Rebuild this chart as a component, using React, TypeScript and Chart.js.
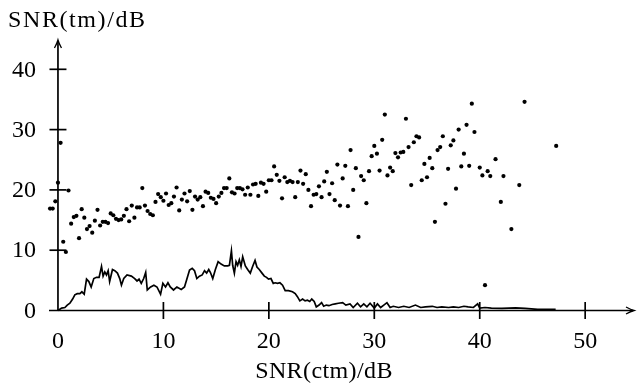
import React, { useEffect, useRef } from "react";
import { Chart, registerables } from "chart.js";

Chart.register(...registerables);

const scatterX = [
  -0.75, -0.5, -0.25, 0, 0.25, 0.5, 0.75, 1.0, 1.25, 1.5, 1.75, 2.0, 2.25, 2.5, 2.75, 3.0, 3.25, 3.5, 3.75, 4.0,
  4.25, 4.5, 4.75, 5.0, 5.25, 5.5, 5.75, 6.0, 6.25, 6.5, 6.75, 7.0, 7.25, 7.5, 7.75, 8.0, 8.25, 8.5, 8.75, 9.0,
  9.25, 9.5, 9.75, 10.0, 10.25, 10.5, 10.75, 11.0, 11.25, 11.5, 11.75, 12.0, 12.25, 12.5, 12.75, 13.0, 13.25, 13.5, 13.75, 14.0,
  14.25, 14.5, 14.75, 15.0, 15.25, 15.5, 15.75, 16.0, 16.25, 16.5, 16.75, 17.0, 17.25, 17.5, 17.75, 18.0, 18.25, 18.5, 18.75, 19.0,
  19.25, 19.5, 19.75, 20.0, 20.25, 20.5, 20.75, 21.0, 21.25, 21.5, 21.75, 22.0, 22.25, 22.5, 22.75, 23.0, 23.25, 23.5, 23.75, 24.0,
  24.25, 24.5, 24.75, 25.0, 25.25, 25.5, 25.75, 26.0, 26.25, 26.5, 26.75, 27.0, 27.25, 27.5, 27.75, 28.0, 28.25, 28.5, 28.75, 29.0,
  29.25, 29.5, 29.75, 30.0, 30.25, 30.5, 30.75, 31.0, 31.25, 31.5, 31.75, 32.0, 32.25, 32.5, 32.75, 33.0, 33.25, 33.5, 33.75, 34.0,
  34.25, 34.5, 34.75, 35.0, 35.25, 35.5, 35.75, 36.0, 36.25, 36.5, 36.75, 37.0, 37.25, 37.5, 37.75, 38.0, 38.25, 38.5, 38.75, 39.0,
  39.25, 39.5, 40.0, 40.25, 40.5, 40.75, 41.0, 41.5, 42.0, 42.25, 43.0, 43.75, 44.25, 47.25,
];
const scatterY = [
  16.9, 16.9, 18.1, 21.2, 27.8, 11.4, 9.7, 19.9, 14.4, 15.5, 15.7, 12.0, 16.8, 15.4, 13.5, 14.0, 12.9, 14.9, 16.7, 14.1,
  14.7, 14.7, 14.5, 16.1, 15.8, 15.2, 15.0, 15.1, 15.7, 16.8, 14.8, 17.4, 15.4, 17.1, 17.1, 20.3, 17.4, 16.5, 16.0, 15.8,
  18.0, 19.3, 18.8, 18.2, 19.4, 17.5, 17.8, 18.9, 20.4, 16.6, 18.4, 19.4, 18.1, 19.8, 16.7, 18.9, 18.4, 18.8, 17.3, 19.7,
  19.5, 18.7, 18.5, 17.8, 18.9, 19.5, 20.3, 20.3, 21.9, 19.6, 19.4, 20.3, 20.3, 20.1, 19.2, 20.4, 19.2, 20.9, 21.0, 19.0,
  21.2, 21.0, 19.7, 21.6, 21.6, 23.9, 22.5, 21.5, 18.6, 22.1, 21.3, 21.5, 21.3, 18.8, 21.3, 23.2, 21.0, 22.6, 20.0, 17.3,
  19.2, 19.3, 20.6, 18.8, 21.4, 23.0, 19.3, 21.1, 18.3, 24.2, 17.4, 21.9, 24.0, 17.3, 26.6, 20.0, 23.6, 12.2, 22.3, 21.6,
  17.8, 23.1, 25.6, 27.3, 26.0, 23.2, 28.3, 32.5, 22.4, 23.7, 23.1, 26.1, 25.4, 26.2, 26.3, 31.8, 27.1, 20.8, 27.9, 28.9,
  28.7, 21.6, 24.3, 22.1, 25.3, 23.6, 14.7, 26.6, 27.1, 28.9, 17.7, 23.5, 27.4, 28.2, 20.2, 30.0, 23.9, 26.0, 30.8, 24.0,
  34.3, 29.6, 23.7, 22.4, 4.2, 23.1, 22.3, 25.1, 18.0, 22.3, 13.5, 20.8, 34.6, 27.3,
];

const lineX = [
  0, 0.35, 0.66, 0.88, 1.13, 1.39, 1.6, 1.83, 2.08, 2.27, 2.49, 2.71, 2.93, 3.15, 3.4, 3.66, 3.9, 4.13, 4.28, 4.44,
  4.6, 4.76, 4.9, 5.17, 5.39, 5.64, 5.86, 6.02, 6.24, 6.55, 6.96, 7.28, 7.5, 7.69, 7.9, 8.13, 8.32, 8.47, 8.79, 9.1,
  9.39, 9.73, 9.95, 10.2, 10.43, 10.65, 10.96, 11.28, 11.69, 12.0, 12.22, 12.48, 12.73, 12.95, 13.17, 13.42, 13.68, 13.9, 14.1, 14.3,
  14.46, 14.68, 14.93, 15.19, 15.47, 15.78, 16.1, 16.26, 16.45, 16.57, 16.73, 16.89, 17.04, 17.2, 17.36, 17.52, 17.77, 17.99, 18.24, 18.46,
  18.69, 18.87, 19.09, 19.35, 19.57, 19.78, 19.97, 20.2, 20.42, 20.6, 20.83, 21.05, 21.3, 21.55, 21.86, 22.24, 22.5, 22.71, 22.94, 23.2,
  23.44, 23.66, 23.88, 24.07, 24.3, 24.5, 24.76, 25.0, 25.2, 25.45, 25.7, 26.0, 26.3, 26.6, 27.0, 27.3, 27.7, 28.0, 28.4, 28.7,
  29.0, 29.3, 29.6, 30.0, 30.3, 30.6, 30.9, 31.2, 31.5, 31.8, 32.3, 32.8, 33.3, 33.9, 34.4, 34.85, 35.5, 35.95, 36.4, 37.05,
  37.5, 38.0, 38.5, 38.9, 39.4, 39.8, 40.0, 40.5, 41.1, 42.1, 43.4, 44.3, 45.5, 47.2,
];
const lineY = [
  0, 0.4, 0.5, 0.9, 1.2, 1.9, 2.6, 2.8, 2.8, 3.1, 2.7, 5.2, 4.8, 3.9, 5.3, 5.5, 5.5, 7.3, 5.7, 6.4,
  5.9, 6.6, 4.8, 6.8, 6.6, 6.2, 5.3, 4.2, 5.3, 5.9, 5.7, 5.3, 4.9, 5.2, 4.5, 5.3, 6.3, 3.4, 3.9, 4.2,
  3.9, 2.7, 4.5, 3.9, 4.6, 3.9, 3.4, 3.9, 3.5, 3.9, 5.2, 6.7, 7.0, 6.6, 5.3, 5.7, 5.9, 6.6, 6.2, 6.8,
  6.3, 5.3, 6.8, 8.1, 7.7, 7.4, 7.4, 7.5, 9.9, 7.5, 6.2, 8.1, 7.5, 8.4, 7.3, 8.9, 7.4, 6.8, 6.2, 7.3,
  8.3, 7.2, 6.8, 6.2, 5.7, 5.5, 5.2, 5.3, 4.5, 4.6, 4.5, 4.6, 4.2, 3.3, 3.3, 3.1, 2.8, 2.3, 1.6, 1.9,
  1.6, 1.7, 1.5, 1.9, 1.5, 0.6, 0.9, 1.3, 0.7, 0.9, 0.8, 1.0, 1.1, 1.2, 1.3, 0.9, 1.1, 0.5, 1.2, 0.6,
  1.1, 0.6, 1.2, 0.4, 1.1, 0.5, 0.9, 1.3, 0.5, 0.7, 0.5, 0.7, 0.5, 0.9, 0.5, 0.6, 0.7, 0.5, 0.6, 0.5,
  0.6, 0.5, 0.7, 0.6, 0.5, 1.1, 0.4, 0.5, 0.4, 0.35, 0.45, 0.35, 0.2, 0.2,
];

const xTicks = [0, 10, 20, 30, 40, 50];
const yTicks = [0, 10, 20, 30, 40];
const xTitle = "SNR(ctm)/dB";
const yTitle = "SNR(tm)/dB";

const FONT = '"Liberation Serif", "Times New Roman", serif';

export default function App() {
  const ref = useRef<HTMLCanvasElement>(null);

  useEffect(() => {
    document.body.style.margin = "0";
    const canvas = ref.current!;
    const ctx = canvas.getContext("2d")!;

    const axesPlugin = {
      id: "latexAxes",
      afterDraw(chart: any) {
        const c = chart.ctx as CanvasRenderingContext2D;
        const xs = chart.scales.x;
        const ys = chart.scales.y;
        const area = chart.chartArea;
        const x0 = xs.getPixelForValue(0);
        const y0 = ys.getPixelForValue(0);
        c.save();
        c.strokeStyle = "#000";
        c.fillStyle = "#000";
        c.lineWidth = 1.7;
        c.lineCap = "butt";
        // x axis
        const xEnd = area.right;
        c.beginPath();
        c.moveTo(area.left, y0);
        c.lineTo(xEnd - 1, y0);
        c.stroke();
        // y axis
        const yEnd = area.top;
        c.beginPath();
        c.moveTo(x0, y0);
        c.lineTo(x0, yEnd + 1);
        c.stroke();
        // arrow heads
        c.lineWidth = 1.3;
        c.beginPath();
        c.moveTo(xEnd - 8, y0 - 3.5);
        c.quadraticCurveTo(xEnd - 3, y0 - 0.8, xEnd, y0);
        c.quadraticCurveTo(xEnd - 3, y0 + 0.8, xEnd - 8, y0 + 3.5);
        c.stroke();
        c.beginPath();
        c.moveTo(x0 - 3.5, yEnd + 8);
        c.quadraticCurveTo(x0 - 0.8, yEnd + 3, x0, yEnd);
        c.quadraticCurveTo(x0 + 0.8, yEnd + 3, x0 + 3.5, yEnd + 8);
        c.stroke();
        // ticks
        c.lineWidth = 1.7;
        const tl = 8.5;
        xTicks.forEach((v) => {
          if (v === 0) return;
          const px = xs.getPixelForValue(v);
          c.beginPath();
          c.moveTo(px, y0 - tl);
          c.lineTo(px, y0 + tl);
          c.stroke();
        });
        yTicks.forEach((v) => {
          if (v === 0) return;
          const py = ys.getPixelForValue(v);
          c.beginPath();
          c.moveTo(x0 - tl, py);
          c.lineTo(x0 + tl, py);
          c.stroke();
        });
        // tick labels
        c.font = `24px ${FONT}`;
        c.textAlign = "center";
        c.textBaseline = "middle";
        xTicks.forEach((v) => {
          c.fillText(String(v), xs.getPixelForValue(v), y0 + 31);
        });
        c.textAlign = "right";
        yTicks.forEach((v) => {
          c.fillText(String(v), x0 - 22, ys.getPixelForValue(v) + 1);
        });
        // titles
        c.textBaseline = "alphabetic";
        try {
          (c as any).letterSpacing = "1.6px";
        } catch (e) {}
        c.textAlign = "left";
        c.fillText(yTitle, 8, 27);
        try {
          (c as any).letterSpacing = "0.4px";
        } catch (e) {}
        c.textAlign = "center";
        c.fillText(xTitle, 324, 378);
        c.restore();
      },
    };

    const chart = new Chart(ctx, {
      type: "scatter",
      data: {
        datasets: [
          {
            type: "line",
            data: lineX.map((x, i) => ({ x, y: lineY[i] })),
            borderColor: "#000",
            borderWidth: 1.7,
            pointRadius: 0,
            fill: false,
            tension: 0,
            clip: false,
          } as any,
          {
            type: "scatter",
            data: scatterX.map((x, i) => ({ x, y: scatterY[i] })),
            backgroundColor: "#000",
            borderColor: "#000",
            borderWidth: 0,
            pointRadius: 2.1,
            clip: false,
          } as any,
        ],
      },
      options: {
        responsive: false,
        animation: false,
        devicePixelRatio: 1,
        events: [],
        layout: { padding: { left: 49, right: 2, top: 40, bottom: 76.5 } },
        plugins: { legend: { display: false }, tooltip: { enabled: false } },
        scales: {
          x: { type: "linear", min: -0.85, max: 54.63, display: false },
          y: { type: "linear", min: 0, max: 44.86, display: false },
        },
      },
      plugins: [axesPlugin],
    });
    return () => chart.destroy();
  }, []);

  return (
    <div style={{ position: "fixed", left: 0, top: 0, width: 638, height: 387, background: "#fff" }}>
      <canvas ref={ref} width={638} height={387} style={{ display: "block", width: 638, height: 387 }} />
    </div>
  );
}
